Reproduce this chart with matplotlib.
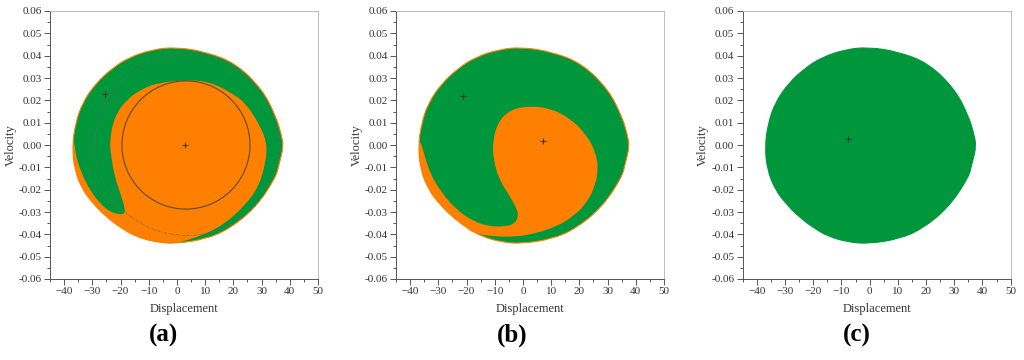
import matplotlib.pyplot as plt
from matplotlib.patches import Ellipse, PathPatch
from matplotlib.path import Path
import numpy as np

plt.rcParams['font.family'] = ['Liberation Serif', 'DejaVu Serif']

ORANGE = '#ff8000'
GREEN = '#00963c'

# outer edge of the basin (same in all three panels)
outer_x = [37.8, 36.9, 35.1, 30.4, 20.9, 10.0, -0.4, -8.5, -16.9, -22.9, -28.8, -33.5, -36.0,
           -37.1, -36.3, -33.5, -29.5, -25.2, -20.0, -14.6, -7.5, -0.4, 10.3, 18.6, 28.0, 35.1, 36.3]
outer_y = [-0.0007, 0.0053, 0.0127, 0.0247, 0.0366, 0.0418, 0.0438, 0.0428, 0.0393, 0.0344, 0.0276,
           0.0189, 0.0096, -0.0007, -0.0110, -0.0200, -0.0265, -0.0320, -0.0370, -0.0410, -0.0435,
           -0.0442, -0.0421, -0.0376, -0.0279, -0.0145, -0.0081]

# (a) orange part: lower-left rim + inner region
a_orange_x = [-36.5, -37.1, -36.3, -33.5, -29.5, -25.2, -20.0, -14.6, -7.5, -0.4, 4.0, 10.2, 17.3,
              24.3, 29.0, 31.4, 32.0, 29.0, 24.3, 19.6, 11.4, 3.2, -6.2, -12.1, -18.0, -22.1, -23.9,
              -23.3, -22.1, -19.7, -18.0, -20.3, -23.9, -27.4, -30.9, -33.8, -35.8]
a_orange_y = [0.0023, -0.0007, -0.0110, -0.0200, -0.0265, -0.0320, -0.0370, -0.0410, -0.0435, -0.0440,
              -0.0425, -0.0398, -0.0350, -0.0268, -0.0186, -0.0081, 0.0008, 0.0098, 0.0188, 0.0232,
              0.0284, 0.0291, 0.0279, 0.0254, 0.0202, 0.0127, 0.0023, -0.0052, -0.0141, -0.0230,
              -0.0305, -0.0312, -0.0298, -0.0260, -0.0201, -0.0126, -0.0052]

# (b) orange part: lower-left rim + comma
b_orange_x = [-36.5, -37.1, -36.3, -33.5, -29.5, -25.2, -20.0, -17.6, -10.5, -2.2, 4.9, 11.9, 17.8,
              22.6, 25.5, 26.7, 25.9, 22.6, 16.7, 9.6, 1.9, -4.6, -8.7, -10.7, -10.5, -8.4, -4.6,
              -2.0, -1.7, -2.8, -5.8, -11.7, -17.6, -23.5, -28.8, -33.0, -35.1]
b_orange_y = [0.0023, -0.0007, -0.0110, -0.0200, -0.0265, -0.0320, -0.0370, -0.0395, -0.0410, -0.0411,
              -0.0394, -0.0365, -0.0320, -0.0260, -0.0186, -0.0111, -0.0036, 0.0045, 0.0120, 0.0165,
              0.0175, 0.0157, 0.0105, 0.0023, -0.0066, -0.0156, -0.0230, -0.0290, -0.0320, -0.0350,
              -0.0365, -0.0365, -0.0342, -0.0290, -0.0215, -0.0126, -0.0036]

# attractors (+ markers)
a_pts_x, a_pts_y = [3.0, -25.6], [0.0, 0.0229]
b_pts_x, b_pts_y = [7.0, -21.4], [0.0017, 0.0218]
c_pts_x, c_pts_y = [-7.8], [0.0026]

# orbits in (a): center, full width, full height
orbit_small = (3.2, 0.0, 45.4, 0.0574)
orbit_large = (3.5, 0.0, 65.2, 0.0810)

panels = ['a', 'b', 'c']
axes_left = [50, 396, 742.7]
label_x = [163, 512, 857]


def smooth_region(xs, ys, **kw):
    # closed quadratic-bezier outline using the read points as control points
    pts = np.column_stack([xs, ys])
    mids = (pts + np.roll(pts, -1, axis=0)) / 2
    verts = [mids[-1]]
    codes = [Path.MOVETO]
    for k in range(len(pts)):
        verts += [pts[k], mids[k]]
        codes += [Path.CURVE3, Path.CURVE3]
    verts.append(mids[-1])
    codes.append(Path.CLOSEPOLY)
    return PathPatch(Path(verts, codes), **kw)


fig = plt.figure(figsize=(10.24, 3.6), dpi=100)

for i, name in enumerate(panels):
    ax = fig.add_axes([axes_left[i] / 1024, 1 - 279 / 360, 268 / 1024, 268 / 360])
    edge = GREEN if name == 'c' else ORANGE
    ax.add_patch(smooth_region(outer_x, outer_y, facecolor=GREEN, edgecolor=edge, lw=0.8, zorder=1))
    if name == 'a':
        ax.add_patch(smooth_region(a_orange_x, a_orange_y, facecolor=ORANGE, edgecolor='none', zorder=2))
        cx, cy, w, h = orbit_small
        ax.add_patch(Ellipse((cx, cy), w, h, fill=False, edgecolor='#5a4a3a', lw=0.8, zorder=3))
        cx, cy, w, h = orbit_large
        ax.add_patch(Ellipse((cx, cy), w, h, fill=False, edgecolor='#6a6a5a', lw=0.5,
                             linestyle=(0, (4, 2, 1, 2)), zorder=3))
        ax.plot(a_pts_x, a_pts_y, '+', color='#4a3a2a', ms=5, mew=0.8, zorder=4)
    elif name == 'b':
        ax.add_patch(smooth_region(b_orange_x, b_orange_y, facecolor=ORANGE, edgecolor='none', zorder=2))
        ax.plot(b_pts_x, b_pts_y, '+', color='#3a3a2a', ms=5, mew=0.8, zorder=4)
    else:
        ax.plot(c_pts_x, c_pts_y, '+', color='#2a3a2a', ms=5, mew=0.8, zorder=4)

    ax.set_xlim(-45, 50)
    ax.set_ylim(-0.06, 0.06)
    ax.set_xticks(np.arange(-40, 51, 10))
    ax.set_xticks(np.arange(-45, 51, 5), minor=True)
    ax.set_yticks(np.arange(-0.06, 0.061, 0.01))
    ax.set_yticks(np.arange(-0.06, 0.061, 0.005), minor=True)
    ax.set_yticklabels([f'{v:.2f}' for v in np.arange(-0.06, 0.061, 0.01)])
    ax.tick_params(which='both', direction='out', colors='#555555', labelcolor='#333333',
                   labelsize=8, width=0.7)
    ax.tick_params(which='major', length=4, pad=2)
    ax.tick_params(which='minor', length=2.5)
    ax.tick_params(top=False, right=False, which='both')
    ax.spines['left'].set_color('#555555')
    ax.spines['bottom'].set_color('#555555')
    ax.spines['top'].set_color('#bbbbbb')
    ax.spines['right'].set_color('#bbbbbb')
    for s in ax.spines.values():
        s.set_linewidth(0.7)
    ax.set_xlabel('Displacement', fontsize=9, color='#333333', labelpad=5)
    ax.set_ylabel('Velocity', fontsize=9, color='#333333', labelpad=1.5)

    fig.text(label_x[i] / 1024, 1 - 335 / 360, f'({name})', ha='center', va='center',
             fontsize=18, fontweight='bold')

fig.savefig('out.png', dpi=100)
